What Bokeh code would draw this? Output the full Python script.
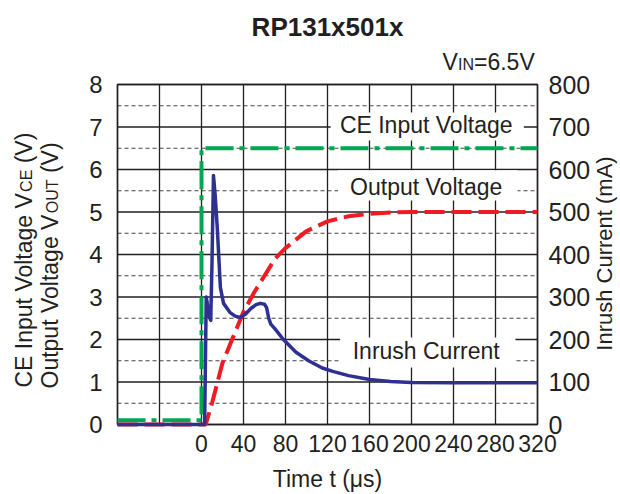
from math import pi
from bokeh.plotting import figure
from bokeh.models import Range1d, LinearAxis, FixedTicker, Label
from bokeh.embed import file_html
from bokeh.resources import INLINE

# ---------------- data ----------------
title_text = "RP131x501x"
x_ticks = [0, 40, 80, 120, 160, 200, 240, 280, 320]
x_grid = [-80, -40, 0, 40, 80, 120, 160, 200, 240, 280, 320]
v_ticks = [0, 1, 2, 3, 4, 5, 6, 7, 8]
v_minor = [0.5, 1.5, 2.5, 3.5, 4.5, 5.5, 6.5, 7.5]
i_ticks = [0, 100, 200, 300, 400, 500, 600, 700, 800]

# CE input voltage (V)
t_ce = [-80, 0, 0, 320]
v_ce = [0.1, 0.1, 6.5, 6.5]

# Output voltage (V)
t_out = [-80, 4, 10, 20, 30, 40, 50, 60, 70, 80, 100, 120, 140, 160, 180, 200, 320]
v_out = [0, 0, 0.5, 1.45, 2.05, 2.65, 3.1, 3.5, 3.9, 4.15, 4.55, 4.78, 4.9, 4.96, 4.99, 5.0, 5.0]

# Inrush current (mA)
t_in = [-80, 3, 4.5, 5.5, 7, 8.8, 10, 11.4, 13, 15, 18, 21, 27, 32, 37, 42, 47, 52, 56, 60,
        62, 64, 66, 70, 78, 90, 102, 115, 125, 140, 160, 180, 200, 240, 320]
i_in = [0, 0, 300, 285, 255, 245, 380, 586, 540, 464, 322, 285, 264, 255, 252, 260, 273, 282, 285, 283,
        275, 250, 236, 225, 200, 170, 150, 133, 125, 115, 106, 101, 99, 98, 98]

ink = "#231f20"
font = "Liberation Sans"

# ---------------- layout ----------------
W, H = 618, 492
FL, FT, FR, FB = 117, 84, 537, 424   # plot box edges in canvas pixels

# the Bokeh frame covers the whole canvas; ranges are widened so the plot box lands at FL..FR, FT..FB
sx = (x_grid[-1] - x_grid[0]) / (FR - FL)
sy = (v_ticks[-1] - v_ticks[0]) / (FB - FT)
xr = Range1d(x_grid[0] - FL * sx, x_grid[-1] + (W - FR) * sx)
yr = Range1d(v_ticks[0] - (H - FB) * sy, v_ticks[-1] + FT * sy)
k = i_ticks[-1] / v_ticks[-1]

p = figure(width=W, height=H, output_backend="svg", toolbar_location=None,
           x_range=xr, y_range=yr, x_axis_location=None, y_axis_location=None,
           min_border=0, background_fill_color="white", border_fill_color="white")
p.title.visible = False
p.outline_line_color = None
for g in p.grid:
    g.visible = False
p.extra_y_ranges = {"cur": Range1d(yr.start * k, yr.end * k)}

# grid lines
p.segment(x0=x_grid, x1=x_grid, y0=v_ticks[0], y1=v_ticks[-1], line_color=ink, line_width=1.3)
p.segment(x0=x_grid[0], x1=x_grid[-1], y0=v_ticks, y1=v_ticks, line_color=ink, line_width=1.3)
p.segment(x0=x_grid[0], x1=x_grid[-1], y0=v_minor, y1=v_minor, line_color="#444444",
          line_width=1, line_dash="4 3")

# white label boxes (layout positions)
boxes = dict(left=[123, 130, 132], right=[307, 301, 299],
             bottom=[6.68, 5.27, 1.34], top=[7.34, 5.98, 2.05])
p.quad(left=boxes["left"], right=boxes["right"], bottom=boxes["bottom"], top=boxes["top"],
       fill_color="white", line_color=None)

# plot box outline
p.quad(left=x_grid[0], right=x_grid[-1], bottom=v_ticks[0], top=v_ticks[-1],
       fill_color=None, line_color=ink, line_width=1.5)

# curves
p.line(t_ce, v_ce, line_color="#00a651", line_width=4, line_dash="28 6 5 6")
p.line(t_out, v_out, line_color="#ed1c24", line_width=4, line_dash="20 7")
p.line(t_in, i_in, y_range_name="cur", line_color="#2e3192", line_width=3.5, line_join="round")

# axes (placed at the plot-box edges)
def style_axis(ax, size, standoff):
    ax.axis_line_color = None
    ax.major_tick_line_color = None
    ax.minor_tick_line_color = None
    ax.major_tick_in = 0
    ax.major_tick_out = 0
    ax.minor_tick_in = 0
    ax.minor_tick_out = 0
    ax.major_label_text_font = font
    ax.major_label_text_font_size = size
    ax.major_label_text_color = ink
    ax.major_label_standoff = standoff

bottom_ax = LinearAxis(ticker=FixedTicker(ticks=x_ticks), fixed_location=v_ticks[0])
style_axis(bottom_ax, "23px", 10)
p.add_layout(bottom_ax, "below")
left_ax = LinearAxis(ticker=FixedTicker(ticks=v_ticks), fixed_location=x_grid[0])
style_axis(left_ax, "24px", 15)
p.add_layout(left_ax, "left")
right_ax = LinearAxis(y_range_name="cur", ticker=FixedTicker(ticks=i_ticks), fixed_location=x_grid[-1])
style_axis(right_ax, "25px", 11)
p.add_layout(right_ax, "right")

# in-plot labels
for txt, yy in [("CE Input Voltage", 7.05), ("Output Voltage", 5.6), ("Inrush Current", 1.74)]:
    p.add_layout(Label(x=214, y=yy, text=txt, text_align="center", text_baseline="middle",
                       text_font=font, text_font_size="23px", text_color=ink))

# texts around the plot box, in canvas pixels (frame == canvas), anchored at their middle
def slabel(X, Y, txt, size, angle=0, align="left", style="normal"):
    p.add_layout(Label(x=X, y=H - Y, x_units="screen", y_units="screen", text=txt,
                       angle=angle, text_align=align, text_baseline="middle",
                       text_font=font, text_font_size=size, text_color=ink,
                       text_font_style=style))

# title
slabel(327, 26, title_text, "26px", align="center", style="bold")
# VIN=6.5V  (small caps subscript on the same baseline)
slabel(442, 61.5, "V", "23px")
slabel(457.5, 64, "IN", "16px")
slabel(473.5, 61.5, "=6.5V", "23px")

# left axis label (two lines, rotated, read bottom to top)
a = pi / 2
slabel(23, 387, "CE Input Voltage V", "23px", angle=a)
slabel(25.5, 387 - 195.6, "CE", "16px", angle=a)
slabel(23, 387 - 195.6 - 22.2 - 6.4, "(V)", "23px", angle=a)
slabel(49, 388, "Output Voltage V", "23px", angle=a)
slabel(51.5, 388 - 175.2, "OUT", "16px", angle=a)
slabel(49, 388 - 175.2 - 33.8 - 6.4, "(V)", "23px", angle=a)

# right axis label
slabel(604, 253, "Inrush Current (mA)", "22px", angle=a, align="center")
# x axis label
slabel(327, 478, "Time t (\u03bcs)", "23px", align="center")

open("out.html", "w").write(file_html(p, INLINE))
